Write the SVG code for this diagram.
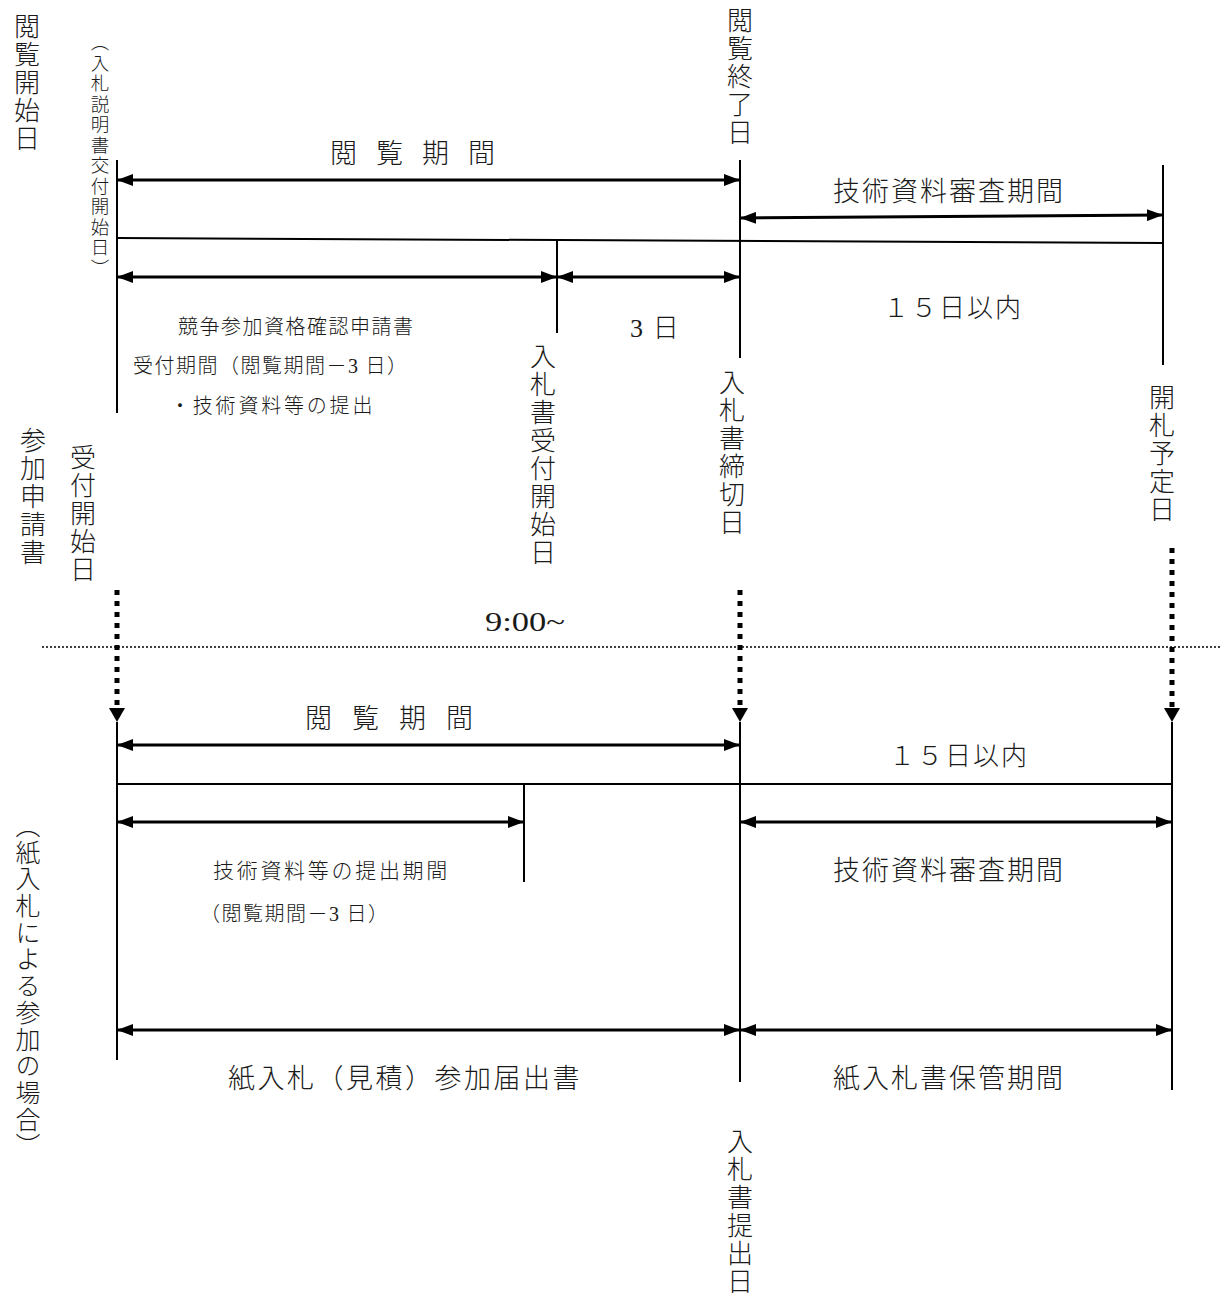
<svg xmlns="http://www.w3.org/2000/svg" width="1221" height="1299" viewBox="0 0 1221 1299">
<style>
.t{font-family:"Noto Sans CJK JP","Liberation Sans",sans-serif;fill:#1a1a1a;font-size:27px;letter-spacing:2px;font-weight:300}
.s{font-size:20px;letter-spacing:1.5px}
.v{writing-mode:vertical-rl;text-orientation:upright;font-size:26px;letter-spacing:2px}
.ln{stroke:#000;stroke-width:2;fill:none}
.ar{stroke:#000;stroke-width:3;fill:none;marker-start:url(#ah);marker-end:url(#ah)}
.dot{stroke:#000;stroke-width:5;stroke-dasharray:5 6;fill:none}
.sep{stroke:#000;stroke-width:1.5;stroke-dasharray:2 2;fill:none}
.serif{font-family:"Liberation Serif",serif}
</style>
<defs>
<marker id="ah" viewBox="0 0 16 12" refX="16" refY="6" markerWidth="16" markerHeight="12" markerUnits="userSpaceOnUse" orient="auto-start-reverse"><path d="M0,0 L16,6 L0,12 z" fill="#000"/></marker>
</defs>
<g id="connectors">
<line class="ln" x1="117" y1="160" x2="117" y2="413"/>
<line class="ln" x1="740" y1="160" x2="740" y2="358"/>
<line class="ln" x1="1163" y1="165" x2="1163" y2="365"/>
<line class="ln" x1="557" y1="240" x2="557" y2="333"/>
<line class="ln" x1="117" y1="238" x2="1163" y2="243"/>
<line class="ar" x1="117" y1="180" x2="740" y2="180"/>
<line class="ar" x1="740" y1="218" x2="1163" y2="215"/>
<line class="ar" x1="117" y1="277" x2="557" y2="277"/>
<line class="ar" x1="557" y1="277" x2="740" y2="277"/>
<line class="dot" x1="117" y1="590" x2="117" y2="708"/>
<line class="dot" x1="740" y1="590" x2="740" y2="708"/>
<line class="dot" x1="1172" y1="548" x2="1172" y2="708"/>
<path d="M109,708 L125,708 L117,722 z"/>
<path d="M732,708 L748,708 L740,722 z"/>
<path d="M1164,708 L1180,708 L1172,722 z"/>
<line class="sep" x1="42" y1="647" x2="1221" y2="647"/>
<line class="ln" x1="117" y1="722" x2="117" y2="1060"/>
<line class="ln" x1="740" y1="722" x2="740" y2="1082"/>
<line class="ln" x1="1172" y1="722" x2="1172" y2="1090"/>
<line class="ln" x1="524" y1="784" x2="524" y2="882"/>
<line class="ln" x1="117" y1="784" x2="1172" y2="784"/>
<line class="ar" x1="117" y1="745" x2="740" y2="745"/>
<line class="ar" x1="117" y1="822" x2="524" y2="822"/>
<line class="ar" x1="740" y1="822" x2="1172" y2="822"/>
<line class="ar" x1="117" y1="1030" x2="740" y2="1030"/>
<line class="ar" x1="740" y1="1030" x2="1172" y2="1030"/>
</g>
<g id="label-top-period"><text class="t" x="330" y="163" style="letter-spacing:19px">閲覧期間</text></g>
<g id="label-top-review"><text class="t" x="833" y="201">技術資料審査期間</text></g>
<g id="label-top-15"><text class="t" x="883" y="317" style="font-size:26px">１５日以内</text></g>
<g id="label-3days"><text class="t" x="630" y="337" style="font-size:26px"><tspan class="serif">3</tspan> 日</text></g>
<g id="label-accept">
<text class="t s" x="178" y="334">競争参加資格確認申請書</text>
<text class="t s" x="133" y="373">受付期間（閲覧期間－<tspan class="serif">3</tspan> 日）</text>
<text class="t s" x="170" y="413" style="letter-spacing:2.8px">・技術資料等の提出</text>
</g>
<g id="label-900"><text class="serif" x="485" y="631" font-size="27" textLength="80" lengthAdjust="spacingAndGlyphs" fill="#1a1a1a">9:00~</text></g>
<g id="v-etsuran-start"><text class="t v" x="27" y="13">閲覧開始日</text></g>
<g id="v-setsumei"><text class="t v" x="100" y="33" style="font-size:18.5px;letter-spacing:2px">（入札説明書交付開始日）</text></g>
<g id="v-etsuran-end"><text class="t v" x="740" y="7">閲覧終了日</text></g>
<g id="v-bid-accept"><text class="t v" x="543" y="343">入札書受付開始日</text></g>
<g id="v-bid-deadline"><text class="t v" x="732" y="369">入札書締切日</text></g>
<g id="v-opening"><text class="t v" x="1162" y="384">開札予定日</text></g>
<g id="v-apply"><text class="t v" x="33" y="427">参加申請書</text></g>
<g id="v-accept-start"><text class="t v" x="83" y="444">受付開始日</text></g>
<g id="label-bottom-period"><text class="t" x="305" y="728" style="letter-spacing:20px">閲覧期間</text></g>
<g id="label-bottom-15"><text class="t" x="889" y="765" style="font-size:26px">１５日以内</text></g>
<g id="label-bottom-submit">
<text class="t s" x="213" y="878" style="font-size:21px;letter-spacing:2.7px">技術資料等の提出期間</text>
<text class="t s" x="200" y="921"><tspan>（閲覧期間－</tspan><tspan class="serif">3</tspan> 日）</text>
</g>
<g id="label-bottom-review"><text class="t" x="833" y="880">技術資料審査期間</text></g>
<g id="label-paper"><text class="t" x="228" y="1088" style="letter-spacing:2.5px">紙入札（見積）参加届出書</text></g>
<g id="label-storage"><text class="t" x="833" y="1088">紙入札書保管期間</text></g>
<g id="v-submit-day"><text class="t v" x="740" y="1128">入札書提出日</text></g>
<g id="v-paper-case"><text class="t v" x="28" y="813" style="font-size:25px;letter-spacing:1.7px">（紙入札による参加の場合）</text></g>
</svg>
